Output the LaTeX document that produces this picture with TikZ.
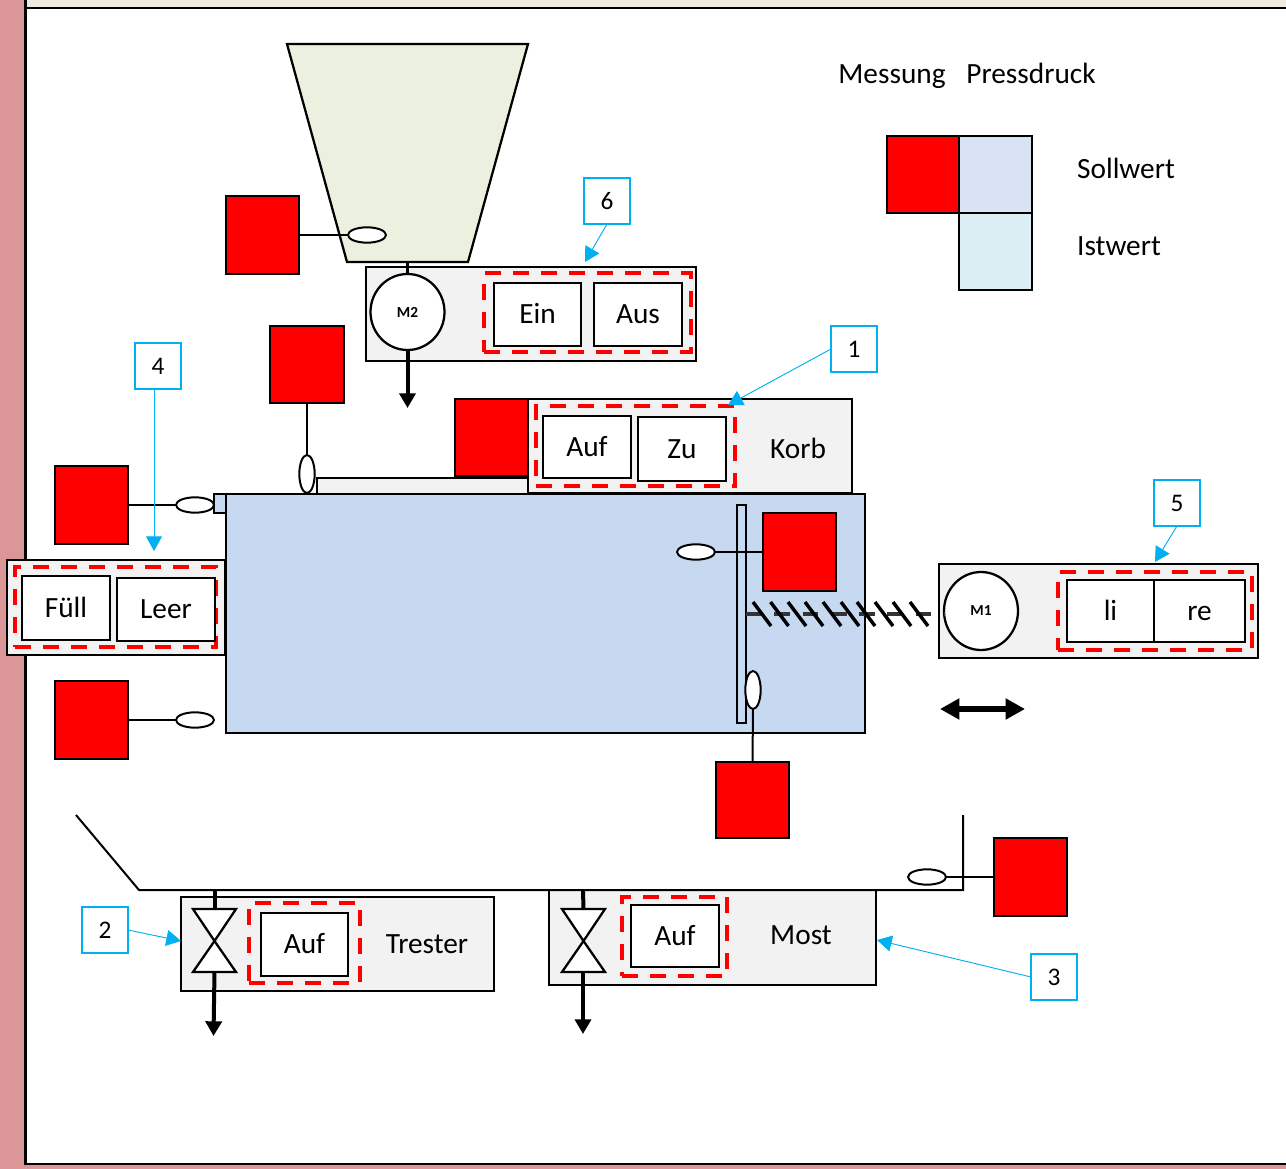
\documentclass[tikz,border=0pt]{standalone}
\usepackage{fontspec}
\setmainfont{Carlito}
\usetikzlibrary{arrows.meta,shapes.geometric}
\definecolor{pinkbg}{HTML}{DB9797}
\definecolor{beige}{HTML}{EEECE1}
\definecolor{hopper}{HTML}{EBF1DE}
\definecolor{panel}{HTML}{F2F2F2}
\definecolor{tank}{HTML}{C6D9F1}
\definecolor{legA}{HTML}{DAE3F3}
\definecolor{legB}{HTML}{DAEEF3}
\definecolor{cyanline}{HTML}{00B0F0}
\newcommand\bx[7]{%
  \pgfmathsetmacro\bxw{(#4)-(#2)}\pgfmathsetmacro\bxh{(#5)-(#3)}%
  \node[#6,minimum width=\bxw*0.75pt,minimum height=\bxh*0.75pt] (#1) at ({((#2)+(#4))/2},{((#3)+(#5))/2}) {#7};}
\tikzset{
  shp/.style={draw=black,line width=1.7pt,rectangle,inner sep=0pt,outer sep=0pt},
  sensor/.style={shp,fill=red},
  panelbox/.style={shp,fill=panel},
  btn/.style={shp,fill=white,font=\fontsize{22}{22}\selectfont,text height=14pt,text depth=0pt},
  redzone/.style={draw=red,line width=3pt,dash pattern=on 12pt off 9pt,rectangle,inner sep=0pt,outer sep=0pt},
  tankbox/.style={shp,fill=tank},
  callout/.style={draw=cyanline,line width=1.5pt,fill=white,rectangle,inner sep=0pt,outer sep=0pt,font=\fontsize{19}{19}\selectfont},
  calline/.style={draw=cyanline,line width=0.7pt,-{Triangle[length=11pt,width=12pt]}},
  lbl/.style={inner sep=0pt,outer sep=0pt,font=\fontsize{22}{22}\selectfont,text height=14pt,text depth=0pt},
  probeh/.style={draw=black,line width=1.5pt,fill=white,ellipse,inner sep=0pt,outer sep=0pt,minimum width=28.5pt,minimum height=11.5pt},
  probev/.style={draw=black,line width=1.5pt,fill=white,ellipse,inner sep=0pt,outer sep=0pt,minimum width=11.5pt,minimum height=28.5pt},
  wire/.style={draw=black,line width=1.5pt},
  motor/.style={draw=black,line width=1.7pt,fill=white,ellipse,inner sep=0pt,outer sep=0pt,minimum width=55.5pt,minimum height=57pt,font=\fontsize{11.5}{11.5}\selectfont\bfseries},
  flow/.style={draw=black,line width=3pt,-{Triangle[length=11pt,width=12pt]}},
  valve/.style={draw=black,line width=1.7pt,fill=white},
}
\begin{document}
\begin{tikzpicture}[x=0.75pt,y=-0.75pt]
\useasboundingbox (0,0) rectangle (1286,1169);
% page background
\fill[pinkbg] (0,0) rectangle (1286,1169);
\fill[beige] (26,0) rectangle (1286,8);
\fill[white] (26,8) rectangle (1286,1164);
\draw[black,line width=1.7pt] (25.5,0) -- (25.5,1164) -- (1286,1164);
\draw[black,line width=1.7pt] (25.5,8) -- (1286,8);
% hopper
\draw[black,line width=1.7pt,fill=hopper] (287,44) -- (528,44) -- (468,262) -- (347,262) -- cycle;
% panels
\bx{pM}{366}{267}{696}{361}{panelbox}{}
\bx{pK}{528}{399}{852}{493}{panelbox}{}
\bx{pS}{317}{478}{528}{494}{panelbox}{}
\bx{pF}{7}{560}{225}{655}{panelbox}{}
\bx{pD}{939}{564}{1258}{658}{panelbox}{}
\bx{pT}{181}{897}{494}{991}{panelbox}{}
\bx{pW}{549}{890}{876}{985}{panelbox}{}
% tank
\bx{inlet}{214}{494}{227}{513}{tankbox}{}
\bx{tank}{226}{494}{865}{733}{tankbox}{}
\bx{plate}{737}{505}{746}{723}{tankbox}{}
% red zones
\bx{z6}{484}{273}{691}{352}{redzone}{}
\bx{z1}{536}{406}{735}{486}{redzone}{}
\bx{z4}{15}{567}{216}{647}{redzone}{}
\bx{z5}{1058}{572}{1252}{650}{redzone}{}
\bx{z2}{249}{903}{360}{983}{redzone}{}
\bx{z3}{622}{897}{727}{976}{redzone}{}
% buttons
\bx{bEin}{494}{283}{581}{346}{btn}{Ein}
\bx{bAus}{594}{283}{682}{346}{btn}{Aus}
\bx{bAuf}{543}{416}{631}{478}{btn}{Auf}
\bx{bZu}{638}{417}{726}{481}{btn}{Zu}
\bx{bFuell}{22}{576}{110}{640}{btn}{Füll}
\bx{bLeer}{117}{578}{215}{641}{btn}{Leer}
\bx{bLi}{1067}{580}{1154}{642}{btn}{li}
\bx{bRe}{1154}{580}{1245}{642}{btn}{re}
\bx{bAufT}{261}{913}{348}{976}{btn}{Auf}
\bx{bAufM}{631}{905}{719}{967}{btn}{Auf}
% labels
\node[lbl] (tKorb) at (798,449) {Korb};
\node[lbl] (tTrester) at (427,944) {Trester};
\node[lbl] (tMost) at (801,935) {Most};
\node[lbl] (tMess) at (892,74) {Messung};
\node[lbl] (tPress) at (1031,74) {Pressdruck};
\node[lbl] (tSoll) at (1126,169) {Sollwert};
\node[lbl] (tIst) at (1119,246) {Istwert};
% legend
\bx{legR}{887}{136}{959}{213}{sensor}{}
\bx{legS}{959}{136}{1032}{213}{shp,fill=legA}{}
\bx{legI}{959}{213}{1032}{290}{shp,fill=legB}{}
% sensors
\bx{s1}{226}{196}{299}{274}{sensor}{}
\bx{s2}{270}{326}{344}{403}{sensor}{}
\bx{s3}{455}{399}{528}{476}{sensor}{}
\bx{s4}{55}{466}{128}{544}{sensor}{}
\bx{s5}{55}{681}{128}{759}{sensor}{}
\bx{s6}{763}{513}{836}{591}{sensor}{}
\bx{s7}{716}{762}{789}{838}{sensor}{}
\bx{s8}{994}{838}{1067}{916}{sensor}{}
% trough
\coordinate (trA) at (76,815);
\coordinate (trB) at (139,890);
\coordinate (trC) at (963,890);
\coordinate (trD) at (963,815);
\draw[wire] (trA) -- (trB) -- (trC) -- (trD);
% probes
\node[probeh] (e1) at (367,235) {};
\node[probev] (e2) at (307,474) {};
\node[probeh] (e4) at (195,505) {};
\node[probeh] (e5) at (195,720) {};
\node[probeh] (e6) at (696,552) {};
\node[probev] (e7) at (753,690) {};
\node[probeh] (e8) at (927,877) {};
\draw[wire] (s1.east |- e1) -- (e1.west);
\draw[wire] (s2.south) -- (e2.north);
\draw[wire] (s4.east |- e4) -- (e4.west);
\draw[wire] (s5.east |- e5) -- (e5.west);
\draw[wire] (s6.west |- e6) -- (e6.east);
\draw[wire] (s7.north) -- (e7.south);
\draw[wire] (s8.west |- e8) -- (e8.east);
% motors
\node[motor] (m2) at (407.5,312) {M2};
\node[motor,minimum height=58.5pt] (m1) at (981,611) {M1};
\coordinate (hopB) at (407.5,262);
\draw[black,line width=2.2pt] (hopB) -- (m2.north);
\coordinate (m2out) at (407.5,408);
\draw[flow] (m2.south) -- (m2out);
% screw
\coordinate (scrA) at (746,614);
\draw[draw=black!80,line width=3pt,dash pattern=on 11.8pt off 9.4pt] (scrA) -- (m1.west |- scrA);
\foreach \sx in {753,770.5,788,805,823,841,857,875,893,910}
  \draw[black,line width=2.6pt] (\sx,602) -- (\sx+18,626);
% travel arrow
\coordinate (dA) at (940,709);
\coordinate (dB) at (1025,709);
\draw[black,line width=4.5pt,{Triangle[length=14.5pt,width=15pt]}-{Triangle[length=14.5pt,width=15pt]}] (dA) -- (dB);
% valves
\coordinate (vT) at (214.5,941);
\coordinate (vM) at (583.5,941);
\coordinate (vTin) at (214.5,890);
\coordinate (vMin) at (583,890);
\coordinate (vTo) at (213.5,1036);
\coordinate (vMo) at (583,1034);
\draw[black,line width=3pt] (vTin) -- (214.5,909);
\draw[black,line width=3pt] (vMin) -- (583.5,909);
\draw[flow] (214.5,972) -- (vTo);
\draw[flow] (583,972) -- (vMo);
\draw[valve] (193,909) -- (236,909) -- (vT) -- (236,972) -- (193,972) -- (vT) -- cycle;
\draw[valve] (562,909) -- (605,909) -- (vM) -- (605,972) -- (562,972) -- (vM) -- cycle;
% callouts
\bx{c1}{831}{326}{877}{372}{callout}{1}
\bx{c2}{82}{907}{128}{953}{callout}{2}
\bx{c3}{1031}{954}{1077}{1000}{callout}{3}
\bx{c4}{135}{343}{181}{389}{callout}{4}
\bx{c5}{1154}{480}{1200}{526}{callout}{5}
\bx{c6}{584}{178}{630}{224}{callout}{6}
\coordinate (a1) at (728,405);
\coordinate (a2) at (181,941);
\coordinate (a3) at (877,940);
\coordinate (a4) at (154,551);
\coordinate (a5) at (1155,562);
\coordinate (a6) at (585,262);
\draw[calline] (c1.west) -- (a1);
\draw[calline] (c2.east) -- (a2);
\draw[calline] (c3.west) -- (a3);
\draw[calline] (a4 |- c4.south) -- (a4);
\draw[calline] (c5.south) -- (a5);
\draw[calline] (c6.south) -- (a6);
\end{tikzpicture}
\end{document}
